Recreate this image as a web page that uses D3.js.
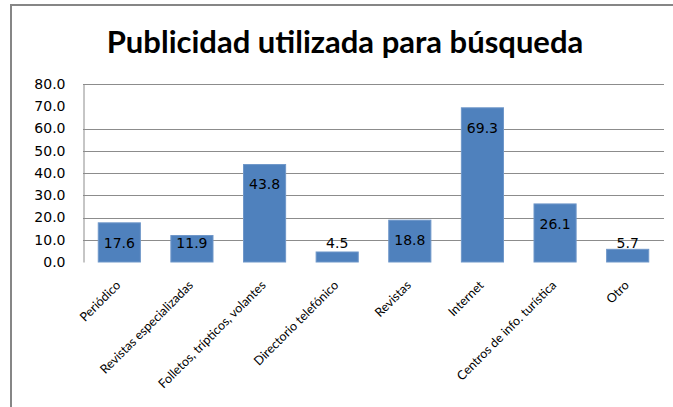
<!DOCTYPE html>
<html>
<head>
<meta charset="utf-8">
<script src="https://cdn.jsdelivr.net/npm/d3@7"></script>
<style>
  body { margin: 0; background: #fff; }
  svg { display: block; }
</style>
</head>
<body>
<div id="chart"></div>
<script>
const categories = ["Periódico", "Revistas especializadas", "Folletos, trípticos, volantes",
  "Directorio telefónico", "Revistas", "Internet", "Centros de info. turística", "Otro"];
const values = [17.6, 11.9, 43.8, 4.5, 18.8, 69.3, 26.1, 5.7];
const yTicks = [0, 10, 20, 30, 40, 50, 60, 70, 80];
const gridTicks = [10, 20, 30, 40, 50, 60, 80]; // the 70 line is not drawn in the original

const dim = {width: 673, height: 407, left: 83, right: 664, top: 84, bottom: 262};

const svg = d3.select('#chart').append('svg')
  .attr('width', dim.width)
  .attr('height', dim.height);

// outer frame (top + left edges only visible)
svg.append('path')
  .attr('d', `M11,${dim.height} L11,5 L${dim.width},5`)
  .attr('fill', 'none')
  .attr('stroke', '#868686')
  .attr('stroke-width', 2);

svg.append('text')
  .attr('x', 345)
  .attr('y', 53)
  .attr('text-anchor', 'middle')
  .attr('font-family', 'Lato, "Open Sans", sans-serif')
  .attr('font-weight', 'bold')
  .attr('font-size', 31)
  .attr('fill', '#000')
  .text('Publicidad utilizada para búsqueda');

const x = d3.scaleBand()
  .domain(categories)
  .range([dim.left, dim.right])
  .paddingInner(0.42)
  .paddingOuter(0.21);

const y = d3.scaleLinear()
  .domain([0, 80])
  .range([dim.bottom, dim.top]);

// gridlines
svg.append('g')
  .selectAll('line')
  .data(gridTicks)
  .enter()
  .append('line')
  .attr('x1', dim.left)
  .attr('x2', dim.right)
  .attr('y1', d => Math.round(y(d)) + 0.5)
  .attr('y2', d => Math.round(y(d)) + 0.5)
  .attr('stroke', '#8c8c8c')
  .attr('stroke-width', 1);

// y axis
const axisY = d3.axisLeft(y).tickValues(yTicks).tickFormat(d3.format('.1f')).tickSize(0).tickPadding(18);
const gy = svg.append('g')
  .attr('transform', `translate(${dim.left + 0.5},0)`)
  .call(axisY);
gy.select('.domain').attr('stroke', '#8c8c8c');
gy.selectAll('text')
  .attr('font-family', '"DejaVu Sans", sans-serif')
  .attr('font-size', 14)
  .attr('fill', '#000');

// bars
svg.append('g')
  .selectAll('rect')
  .data(values)
  .enter()
  .append('rect')
  .attr('x', (d, i) => x(categories[i]))
  .attr('y', d => y(d))
  .attr('width', x.bandwidth())
  .attr('height', d => y(0) - y(d))
  .attr('fill', '#4f81bd')
  .attr('stroke', '#6f97c9')
  .attr('stroke-width', 1);

// value labels
svg.append('g')
  .selectAll('text')
  .data(values)
  .enter()
  .append('text')
  .attr('x', (d, i) => x(categories[i]) + x.bandwidth() / 2)
  .attr('y', d => Math.min(y(d) + 20, dim.bottom - 19))
  .attr('dy', '0.35em')
  .attr('text-anchor', 'middle')
  .attr('font-family', '"DejaVu Sans", sans-serif')
  .attr('font-size', 14)
  .attr('fill', '#000')
  .text(d => d.toFixed(1));

// category labels, rotated
svg.append('g')
  .selectAll('text')
  .data(categories)
  .enter()
  .append('text')
  .attr('transform', d => `translate(${x(d) + x.bandwidth() / 2 + 2},${dim.bottom + 24}) rotate(-45)`)
  .attr('text-anchor', 'end')
  .attr('font-family', 'Lato, "Open Sans", sans-serif')
  .attr('font-size', 12.5)
  .attr('fill', '#000')
  .text(d => d);
</script>
</body>
</html>
